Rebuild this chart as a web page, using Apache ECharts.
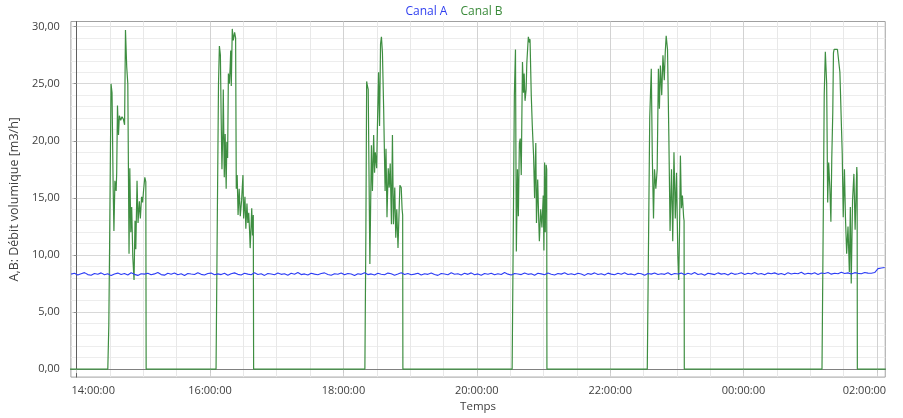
<!DOCTYPE html>
<html>
<head>
<meta charset="utf-8">
<script src="https://cdn.jsdelivr.net/npm/echarts@6/dist/echarts.min.js"></script>
<style>
html,body{margin:0;padding:0;background:#fff;}
#chart{width:903px;height:418px;}
</style>
</head>
<body>
<div id="chart"></div>
<script>
// Time is in minutes after 14:00:00
const xMin = -5.2, xMax = 727.5;
const yMin = -0.7, yMax = 30.45;
const xLabelTicks = [0, 120, 240, 360, 480, 600, 720];
const xMinorTicks = [30, 60, 90, 150, 180, 210, 270, 300, 330, 390, 420, 450, 510, 540, 570, 630, 660, 690];
const yLabelTicks = [0, 5, 10, 15, 20, 25, 30];
const yMinorTicks = [1,2,3,4,6,7,8,9,11,12,13,14,16,17,18,19,21,22,23,24,26,27,28,29];
const seriesNames = ['Canal A', 'Canal B'];

// Canal A: sampled every 3 minutes starting at -5
const canalAStart = -5, canalAStep = 3;
const canalAValues = [
  8.32,8.40,8.24,8.36,8.45,8.28,8.22,8.38,8.31,8.43,8.27,8.35,8.19,8.33,8.41,
  8.29,8.37,8.25,8.44,8.30,8.21,8.36,8.32,8.40,8.26,8.34,8.46,8.28,8.23,8.39,
  8.31,8.42,8.27,8.35,8.20,8.38,8.33,8.29,8.45,8.30,8.24,8.37,8.41,8.26,8.34,
  8.28,8.39,8.22,8.36,8.43,8.30,8.25,8.40,8.32,8.27,8.44,8.29,8.35,8.21,8.38,
  8.33,8.26,8.41,8.30,8.36,8.23,8.39,8.31,8.46,8.28,8.34,8.24,8.40,8.32,8.27,
  8.37,8.43,8.29,8.22,8.35,8.31,8.42,8.26,8.38,8.33,8.20,8.36,8.30,8.44,8.28,
  8.34,8.25,8.39,8.31,8.27,8.41,8.36,8.23,8.33,8.45,8.29,8.37,8.26,8.32,8.40,
  8.24,8.35,8.30,8.42,8.28,8.21,8.38,8.33,8.27,8.44,8.31,8.36,8.25,8.39,8.30,
  8.43,8.27,8.34,8.22,8.37,8.31,8.40,8.26,8.35,8.29,8.46,8.32,8.24,8.38,8.33,
  8.28,8.41,8.30,8.36,8.23,8.39,8.34,8.27,8.42,8.31,8.25,8.37,8.32,8.44,8.29,
  8.35,8.26,8.40,8.33,8.21,8.38,8.30,8.43,8.28,8.36,8.24,8.41,8.32,8.27,8.39,
  8.31,8.45,8.29,8.34,8.25,8.40,8.36,8.22,8.38,8.32,8.42,8.28,8.35,8.30,8.44,
  8.27,8.37,8.33,8.41,8.26,8.39,8.31,8.46,8.29,8.35,8.23,8.40,8.34,8.28,8.43,
  8.32,8.38,8.25,8.42,8.30,8.36,8.44,8.29,8.39,8.33,8.47,8.31,8.37,8.26,8.41,
  8.35,8.43,8.30,8.38,8.27,8.45,8.33,8.40,8.36,8.48,8.31,8.39,8.34,8.44,8.29,
  8.42,8.37,8.46,8.32,8.40,8.35,8.49,8.38,8.43,8.33,8.45,8.39,8.36,8.47,8.41,
  8.40,8.46,8.80,8.86,8.90
];

// Canal B: [minutes, value]
const canalBStart = [[-6, 0]];
const canalBBurst1 = [[28.0,0],[28.9,3.8],[29.6,10.7],[30.9,25.0],[31.8,24.2],[32.8,16.0],[33.5,12.1],[34.4,16.5],[35.5,15.6],[36.0,17.2],[36.7,23.1],[37.6,20.5],[38.4,22.2],[39.6,21.8],[40.8,22.1],[42.0,21.9],[43.1,21.4],[43.9,29.7],[45.0,26.5],[46.0,25.0],[47.1,10.1],[47.8,17.6],[48.7,12.0],[49.5,14.2],[50.5,9.8],[51.6,7.8],[52.5,13.0],[53.2,10.5],[54.3,16.5],[55.2,12.8],[56.4,14.7],[57.3,13.2],[58.4,15.1],[59.3,14.6],[60.3,15.8],[61.3,16.8],[62.2,16.4],[62.5,0]];
const canalBBurst2 = [[125.4,0],[126.6,14],[127.6,25],[128.4,28.3],[129.3,27.5],[130.0,22],[130.7,17.5],[131.5,21],[131.9,24.5],[132.8,16.8],[133.6,20.6],[134.5,15.8],[135.1,19.9],[135.8,18.5],[136.5,25.9],[137.4,25.0],[138.1,26.5],[138.6,27.9],[139.1,24.8],[140.0,29.8],[140.9,28.8],[142.1,29.5],[143.0,29.0],[143.6,15.8],[144.4,17.0],[145.2,13.5],[146.2,15.8],[147.2,13.4],[148.4,14.8],[149.6,17.0],[150.2,13.2],[151.4,15.1],[152.2,12.3],[153.2,14.5],[154.0,12.8],[154.8,13.7],[155.6,12.0],[156.1,10.6],[156.9,12.5],[157.5,14.1],[158.2,11.7],[158.9,13.5],[159.2,0]];
const canalBBurst3 = [[259.3,0],[260.2,12],[260.9,25.2],[261.6,24.8],[262.3,24.5],[263.8,9.2],[265.2,19.6],[266.1,15.6],[267.2,20.5],[268.0,17.2],[268.7,19.0],[269.9,17.6],[270.5,20.8],[271.6,26.0],[272.5,21.3],[273.4,28.5],[274.2,29.1],[275.1,27.7],[276.2,22.8],[277.5,15.6],[278.3,19.3],[279.2,13.3],[280.3,17.6],[281.2,15.9],[282.1,18.0],[283.2,12.7],[284.1,20.5],[285.0,12.7],[286.2,15.9],[287.1,11.5],[288.0,14.0],[289.1,10.6],[290.0,13.5],[290.8,16.1],[292.0,15.9],[292.8,14.0],[293.3,13.5],[293.5,0]];
const canalBBurst4 = [[391.8,0],[393.0,14],[393.8,24],[394.8,28.0],[395.6,10.3],[396.6,17.5],[397.4,13.4],[398.3,19.8],[399.1,20.2],[400.0,17.0],[400.6,22.5],[401.1,26.9],[402.0,24.2],[402.6,25.9],[403.4,23.5],[404.4,24.5],[405.0,26.8],[406.0,28.5],[406.4,29.1],[407.4,28.6],[407.9,28.9],[409.0,24.0],[409.9,21.4],[411.1,18.7],[412.0,15.0],[413.1,19.8],[413.7,12.8],[414.8,16.6],[415.6,13.5],[416.3,11.2],[417.5,14.0],[418.6,12.4],[419.8,15.2],[420.4,10.4],[421.0,18.1],[421.6,12.0],[422.4,17.9],[422.9,17.5],[423.1,0]];
const canalBBurst5 = [[513.4,0],[514.6,12],[515.6,22],[517.0,26.3],[517.9,18.7],[519.0,13.2],[519.9,17.5],[521.1,15.8],[522.3,17.5],[523.4,26.3],[524.3,22.8],[525.2,26.6],[526.4,24.0],[527.5,27.5],[528.7,25.3],[529.6,27.8],[530.4,29.2],[531.6,28.0],[532.8,20.4],[533.9,12.1],[535.2,17.5],[536.3,11.2],[537.4,19.0],[538.6,13.2],[539.7,17.2],[540.9,9.9],[541.7,7.8],[542.4,12.0],[543.2,18.7],[544.1,14.1],[545.0,15.2],[546.1,13.3],[546.5,13.0],[546.7,0]];
const canalBBurst6 = [[670.6,0],[671.8,14],[672.6,24],[673.6,27.8],[674.8,25.0],[675.7,14.6],[676.6,18.1],[677.7,15.8],[678.6,12.9],[679.4,18.5],[680.3,22.5],[680.9,27.7],[681.5,28.0],[683.0,28.1],[684.5,28.0],[685.8,27.9],[686.7,26.0],[688.2,20.9],[688.8,18.9],[689.7,13.3],[690.8,17.5],[691.7,13.3],[692.8,10.1],[694.0,12.5],[695.2,8.5],[696.1,14.2],[696.9,7.5],[698.1,14.8],[699.3,17.1],[700.4,12.2],[701.9,17.7],[702.2,17.0],[702.4,0]];
const canalBEnd = [[728, 0]];

const canalAData = canalAValues.map((v, i) => [canalAStart + i * canalAStep, v]);
const canalBData = [].concat(canalBStart, canalBBurst1, canalBBurst2, canalBBurst3, canalBBurst4, canalBBurst5, canalBBurst6, canalBEnd);

const FONT = 'Open Sans';
function fmtTime(t) {
  const h = (14 + Math.round(t / 60)) % 24;
  const s = (h < 10 ? '0' : '') + h + ':00:00';
  if (t === xLabelTicks[0]) return '{sa| }{t|' + s + '}';
  if (t === xLabelTicks[xLabelTicks.length - 1]) return '{t|' + s + '}{sb| }';
  return s;
}

const chart = echarts.init(document.getElementById('chart'), null, {renderer: 'canvas'});
chart.setOption({
  animation: false,
  backgroundColor: '#ffffff',
  textStyle: {fontFamily: FONT},
  legend: {
    top: 1, left: 'center',
    itemWidth: 0, itemHeight: 0, itemGap: 8,
    icon: 'rect',
    data: [
      {name: seriesNames[0], textStyle: {color: '#3040f0'}},
      {name: seriesNames[1], textStyle: {color: '#3a8a3a'}}
    ],
    textStyle: {fontSize: 12, fontFamily: FONT}
  },
  grid: {left: 62, right: 2, top: 21.5, bottom: 36.3, show: true, borderColor: '#a0a0a0', borderWidth: 1, containLabel: false},
  xAxis: [{
    type: 'value', min: xMin, max: xMax,
    name: 'Temps', nameLocation: 'middle', nameGap: 22,
    nameTextStyle: {fontSize: 11.5, color: '#404040', fontFamily: FONT},
    axisLine: {show: true, lineStyle: {color: '#808080', width: 1}},
    axisTick: {show: true, length: 4, customValues: xLabelTicks, lineStyle: {color: '#c8c8c8'}},
    axisLabel: {
      customValues: xLabelTicks, formatter: fmtTime, fontSize: 11, color: '#404040', margin: 8, fontFamily: FONT,
      alignMinLabel: 'center', alignMaxLabel: 'center',
      rich: {sa: {width: 33}, sb: {width: 25}, t: {fontSize: 11, color: '#404040', fontFamily: FONT}}
    },
    splitLine: {show: true, lineStyle: {color: '#d2d2d2', width: 1}}
  }, {
    type: 'value', min: xMin, max: xMax, position: 'top',
    axisLine: {show: false}, axisLabel: {show: false},
    axisTick: {show: false, customValues: xMinorTicks},
    splitLine: {show: true, lineStyle: {color: '#e8e8e8', width: 1}}
  }],
  yAxis: [{
    type: 'value', min: yMin, max: yMax,
    name: 'A,B: Débit volumique [m3/h]', nameLocation: 'middle', nameGap: 37,
    nameTextStyle: {fontSize: 12.5, color: '#404040', fontFamily: FONT},
    axisLine: {show: true, lineStyle: {color: '#606060', width: 1}},
    axisTick: {show: true, length: 3, customValues: yLabelTicks, lineStyle: {color: '#909090'}},
    axisLabel: {customValues: yLabelTicks, formatter: v => v.toFixed(2).replace('.', ','), fontSize: 11, color: '#404040', margin: 11, fontFamily: FONT},
    splitLine: {show: true, lineStyle: {color: '#d8d8d8', width: 1}}
  }, {
    type: 'value', min: yMin, max: yMax, position: 'right',
    axisLine: {show: false}, axisLabel: {show: false},
    axisTick: {show: false, customValues: yMinorTicks},
    splitLine: {show: true, lineStyle: {color: '#ededed', width: 1}}
  }],
  series: [{
    name: seriesNames[1], type: 'line', xAxisIndex: 0, yAxisIndex: 0,
    data: canalBData, showSymbol: false, symbol: 'none',
    lineStyle: {color: '#3e8e41', width: 1.2}, itemStyle: {color: '#3a8a3a'}, z: 3
  }, {
    name: seriesNames[0], type: 'line', xAxisIndex: 0, yAxisIndex: 0,
    data: canalAData, showSymbol: false, symbol: 'none',
    lineStyle: {color: '#2d3df5', width: 1.1}, itemStyle: {color: '#3040f0'}, z: 4
  }]
});
</script>
</body>
</html>
